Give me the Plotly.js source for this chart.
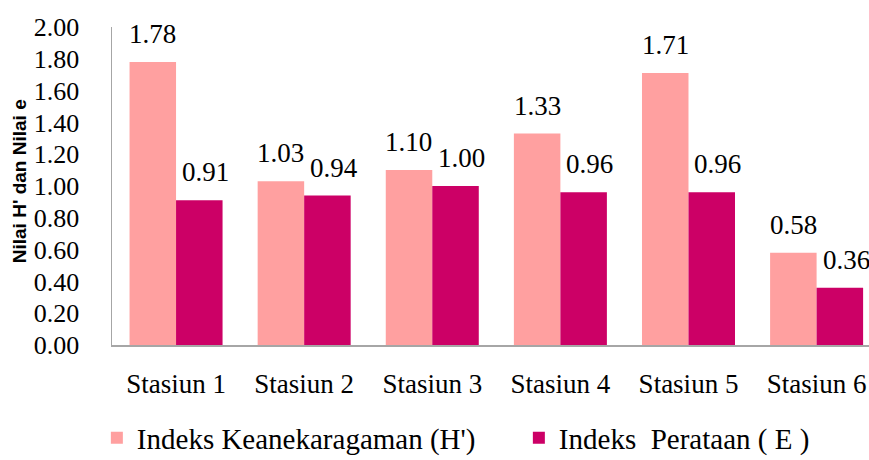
<!DOCTYPE html>
<html>
<head>
<meta charset="utf-8">
<script src="https://cdn.plot.ly/plotly-3.0.1.min.js"></script>
<style>html,body{margin:0;padding:0;background:#fff;}#chart{width:869px;height:460px;}</style>
</head>
<body>
<div id="chart"></div>
<script>
const categories = ["Stasiun 1", "Stasiun 2", "Stasiun 3", "Stasiun 4", "Stasiun 5", "Stasiun 6"];
const seriesNames = ["Indeks Keanekaragaman (H')", "Indeks\u00A0\u00A0Perataan ( E )"];
const valuesH = [1.78, 1.03, 1.10, 1.33, 1.71, 0.58];
const valuesE = [0.91, 0.94, 1.00, 0.96, 0.96, 0.36];
const yTickVals = [0, 0.2, 0.4, 0.6, 0.8, 1.0, 1.2, 1.4, 1.6, 1.8, 2.0];
const yTickText = ["0.00", "0.20", "0.40", "0.60", "0.80", "1.00", "1.20", "1.40", "1.60", "1.80", "2.00"];
const yTitle = "Nilai H' dan Nilai e";

const serif = "'Liberation Serif', 'Times New Roman', Times, serif";
const sans = "'Liberation Sans', Arial, sans-serif";
const colors = ["#FFA0A0", "#CC0066"];

const traces = [valuesH, valuesE].map((vals, k) => ({
  type: "bar",
  x: categories,
  y: vals,
  name: seriesNames[k],
  marker: {color: colors[k], line: {width: 0}},
  hoverinfo: "none"
}));

const annotations = [];
[valuesH, valuesE].forEach((vals, k) => {
  vals.forEach((v, i) => {
    annotations.push({
      x: categories[i], y: v, xref: "x", yref: "y",
      text: v.toFixed(2), showarrow: false,
      xanchor: "center", yanchor: "bottom",
      xshift: k === 0 ? -23.3 : 29.5, yshift: 11,
      font: {family: serif, size: 27, color: "#000"}
    });
  });
});
annotations.push({
  xref: "paper", yref: "paper", x: 0, y: 0.515,
  xshift: -93, xanchor: "center", yanchor: "middle",
  text: yTitle, textangle: -90, showarrow: false,
  font: {family: sans, size: 19, color: "#000", weight: "bold"}
});

const layout = {
  width: 869, height: 460,
  margin: {l: 112, r: 0, t: 26.5, b: 114.5, autoexpand: false},
  paper_bgcolor: "#fff", plot_bgcolor: "#fff",
  barmode: "group", bargap: 0.274, bargroupgap: 0,
  showlegend: true,
  legend: {
    orientation: "h", x: -0.02, xanchor: "left", y: -0.372, yanchor: "bottom",
    font: {family: serif, size: 29, color: "#000"},
    entrywidth: 377, entrywidthmode: "pixels",
    itemclick: false, itemdoubleclick: false
  },
  xaxis: {
    type: "category", range: [-0.5, 5.409],
    showline: true, linecolor: "#A6A6A6", linewidth: 1.5,
    showgrid: false, zeroline: false, ticks: "",
    ticklabelstandoff: 14,
    tickfont: {family: serif, size: 27, color: "#000"},
    fixedrange: true
  },
  yaxis: {
    range: [0, 2], tickvals: yTickVals, ticktext: yTickText,
    showline: true, linecolor: "#A6A6A6", linewidth: 1.5,
    showgrid: false, zeroline: false, ticks: "",
    ticklabelstandoff: 26,
    tickfont: {family: serif, size: 26, color: "#000"},
    fixedrange: true
  },
  annotations: annotations
};

Plotly.newPlot("chart", traces, layout, {displayModeBar: false, staticPlot: true});
</script>
</body>
</html>
